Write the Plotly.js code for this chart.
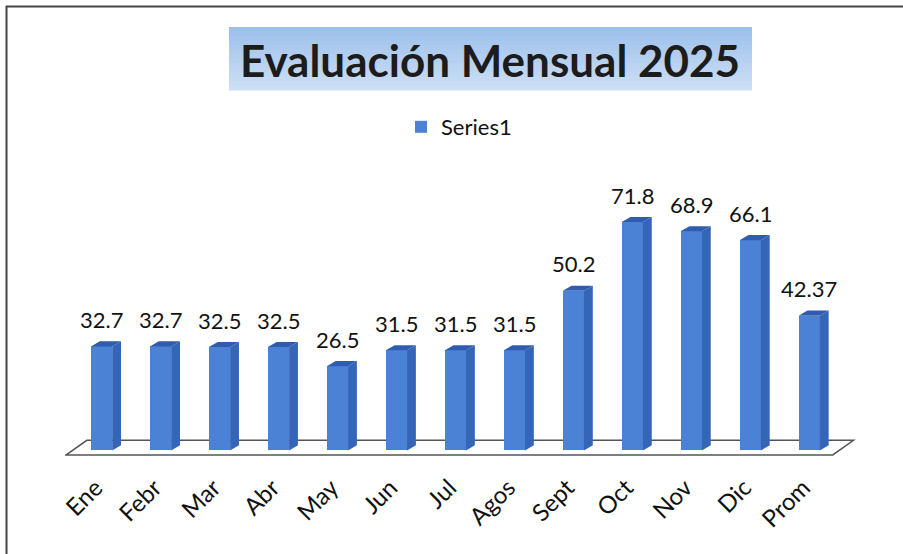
<!DOCTYPE html>
<html>
<head>
<meta charset="utf-8">
<script src="https://cdn.plot.ly/plotly-3.0.1.min.js"></script>
<style>html,body{margin:0;padding:0;background:#fff;}#chart{width:903px;height:554px;}</style>
</head>
<body>
<div id="chart"></div>
<script>
// ---- data ----
const categories = ["Ene","Febr","Mar","Abr","May","Jun","Jul","Agos","Sept","Oct","Nov","Dic","Prom"];
const values = [32.7, 32.7, 32.5, 32.5, 26.5, 31.5, 31.5, 31.5, 50.2, 71.8, 68.9, 66.1, 42.37];
const labels = ["32.7","32.7","32.5","32.5","26.5","31.5","31.5","31.5","50.2","71.8","68.9","66.1","42.37"];
const seriesName = "Series1";
const chartTitle = "Evaluación Mensual 2025";

// ---- geometry / style ----
const W = 903, H = 554;
const M = {l: 65, r: 36, t: 196, b: 94};
const PW = W - M.l - M.r, PH = H - M.t - M.b;
const px = x => (x - M.l) / PW;          // page px -> paper x
const py = y => (H - M.b - y) / PH;      // page px -> paper y

const barW = 0.36, dx = 0.15, dy = 1.6;
const cFront = "#4c82d6", cSide = "#3565b6", cTop = "#2f5cae";

const shapes = [];
// chart frame
shapes.push({type:"line", xref:"paper", yref:"paper", x0:px(6.5), x1:px(6.5), y0:py(6), y1:py(560), line:{color:"#444", width:2}, layer:"below"});
shapes.push({type:"line", xref:"paper", yref:"paper", x0:px(6), x1:px(910), y0:py(6.5), y1:py(6.5), line:{color:"#444", width:2}, layer:"below"});
// title box gradient
const bx0 = 229, bx1 = 752, by0 = 27, by1 = 90, n = 14;
const cA = [157, 192, 234], cB = [204, 223, 244];
for (let k = 0; k < n; k++) {
  const t = k / (n - 1);
  const c = cA.map((a, j) => Math.round(a + (cB[j] - a) * t));
  shapes.push({type:"rect", xref:"paper", yref:"paper", layer:"below",
    x0:px(bx0), x1:px(bx1), y0:py(by0 + (by1-by0)*k/n), y1:py(by0 + (by1-by0)*(k+1)/n + 0.5),
    fillcolor:`rgb(${c[0]},${c[1]},${c[2]})`, line:{width:0}});
}
// floor
const last = categories.length - 1;
const fx0 = -0.6, fx1 = last + 0.4, fyF = -1.4, fyB = 3.2, fdx = 0.35;
shapes.push({type:"path", xref:"x", yref:"y", layer:"below",
  path:`M ${fx0} ${fyF} L ${fx1} ${fyF} L ${fx1+fdx} ${fyB} L ${fx0+fdx} ${fyB} Z`,
  fillcolor:"#ffffff", line:{color:"#555", width:1.5}});
// 3D side / top faces derived from the data
values.forEach((v, i) => {
  const r = i + barW/2, l = i - barW/2;
  shapes.push({type:"path", xref:"x", yref:"y", layer:"above",
    path:`M ${r} 0 L ${r+dx} ${dy} L ${r+dx} ${v+dy} L ${r} ${v} Z`,
    fillcolor:cSide, line:{width:0}});
  shapes.push({type:"path", xref:"x", yref:"y", layer:"above",
    path:`M ${l} ${v} L ${r} ${v} L ${r+dx} ${v+dy} L ${l+dx} ${v+dy} Z`,
    fillcolor:cTop, line:{width:0}});
});

const annotations = values.map((v, i) => ({
  x: i, y: v, xref:"x", yref:"y", text: labels[i], showarrow:false,
  yanchor:"middle", yshift: 27, font:{family:"Lato, sans-serif", size:22, color:"#111"}
}));

const trace = {
  type:"bar", x: categories.map((c,i)=>i), y: values, name: seriesName,
  width: barW, marker:{color: cFront, line:{width:0}},
  hoverinfo:"skip", showlegend:true
};

const layout = {
  width: W, height: H, margin: M,
  paper_bgcolor:"#ffffff", plot_bgcolor:"rgba(0,0,0,0)",
  title:{text: chartTitle, xref:"container", yref:"container", x: 490/W, y: (H-62)/H,
    xanchor:"center", yanchor:"middle", font:{family:"Lato, sans-serif", size:44, color:"#1c1c1c", weight:700}},
  showlegend:true,
  legend:{orientation:"h", x: px(401), y: py(127), xanchor:"left", yanchor:"middle",
    font:{family:"Lato, sans-serif", size:22, color:"#111"}, bgcolor:"rgba(0,0,0,0)"},
  xaxis:{range:[-0.62, last + 0.98], tickmode:"array", tickvals: categories.map((c,i)=>i - 0.1), ticktext: categories,
    tickangle:-45, showgrid:false, zeroline:false, showline:false, ticks:"",
    ticklabelstandoff: 8,
    tickfont:{family:"Lato, sans-serif", size:24, color:"#111"}},
  yaxis:{range:[-3, 80], visible:false, showgrid:false, zeroline:false},
  shapes: shapes, annotations: annotations, bargap: 0
};

Plotly.newPlot("chart", [trace], layout, {displayModeBar:false, staticPlot:true});
</script>
</body>
</html>
